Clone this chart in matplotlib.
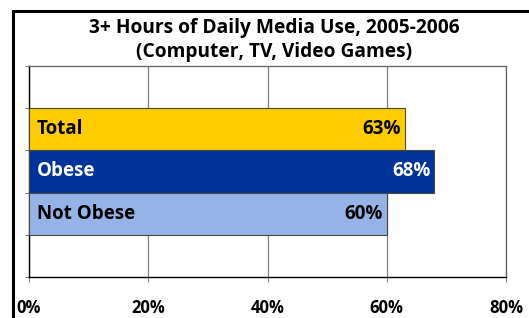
import matplotlib.pyplot as plt
from matplotlib.lines import Line2D

# data
categories = ["Total", "Obese", "Not Obese"]
values = [63, 68, 60]
bar_colors = ["#FFCC00", "#003399", "#95B3E6"]
text_colors = ["black", "white", "black"]
x_ticks = [0, 20, 40, 60, 80]
x_labels = ["0%", "20%", "40%", "60%", "80%"]

plt.rcParams["font.family"] = ["Open Sans", "DejaVu Sans"]

fig = plt.figure(figsize=(5.29, 3.18), dpi=100)
ax = fig.add_axes([29 / 529, 1 - 277 / 318, 477 / 529, 211 / 318])

pos = [i + 1 for i in range(len(categories))]
ax.barh(pos, values, height=1.0, color=bar_colors, edgecolor="#4a4a3a",
        linewidth=0.8, zorder=3)

for p, name, v, tc in zip(pos, categories, values, text_colors):
    ax.text(1.3, p, name, ha="left", va="center", fontsize=13.5,
            fontweight="bold", color=tc, zorder=4)
    ax.text(v - 0.7, p, f"{v}%", ha="right", va="center", fontsize=13.5,
            fontweight="bold", color=tc, zorder=4)

ax.set_xlim(0, 80)
ax.set_ylim(len(categories) + 1.5, -0.5)
ax.set_xticks(x_ticks)
ax.set_xticklabels(x_labels, fontsize=12, fontweight="bold")
ax.set_yticks([i - 0.5 for i in range(len(categories) + 3)])
ax.set_yticklabels([])
ax.tick_params(axis="y", length=3, width=0.8, color="#808080")
ax.tick_params(axis="x", length=3.5, width=0.8, color="#808080", pad=12)
ax.xaxis.grid(True, color="#808080", linewidth=0.9, zorder=0)
ax.set_axisbelow(True)

for side in ["top", "right"]:
    ax.spines[side].set_color("#606060")
    ax.spines[side].set_linewidth(0.9)
for side in ["left", "bottom"]:
    ax.spines[side].set_color("black")
    ax.spines[side].set_linewidth(1.0)

fig.text(0.519, 1 - 28 / 318, "3+ Hours of Daily Media Use, 2005-2006",
         ha="center", va="center", fontsize=13.8, fontweight="bold")
fig.text(0.519, 1 - 52 / 318, "(Computer, TV, Video Games)",
         ha="center", va="center", fontsize=13.8, fontweight="bold")

# outer chart frame (cropped at right and bottom)
fig.add_artist(Line2D([12.5 / 529, 12.5 / 529], [0, 1 - 10.5 / 318],
                      transform=fig.transFigure, color="black", linewidth=2.2))
fig.add_artist(Line2D([12.5 / 529, 1], [1 - 10.5 / 318, 1 - 10.5 / 318],
                      transform=fig.transFigure, color="black", linewidth=2.2))

fig.savefig("out.png", dpi=100)
